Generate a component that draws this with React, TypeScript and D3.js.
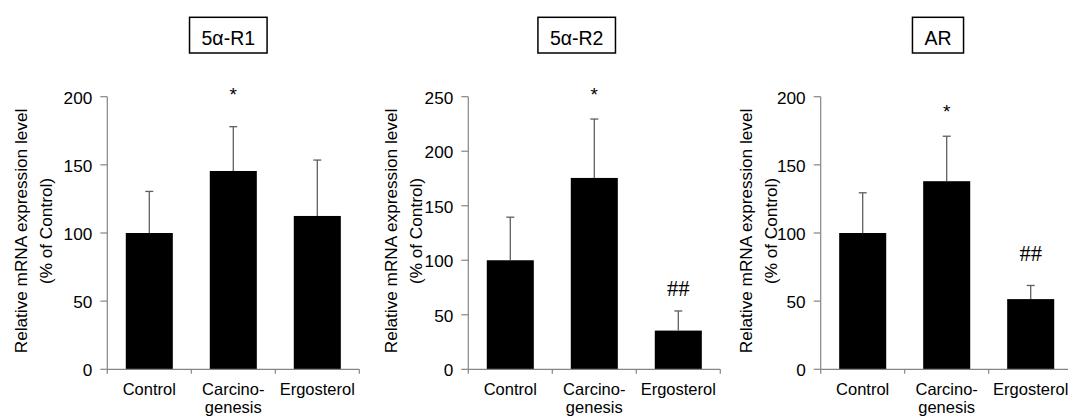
import React from "react";
import * as d3 from "d3";

// ---- data ----
const categories = ["Control", "Carcino-\ngenesis", "Ergosterol"];
const panelTitles = ["5α-R1", "5α-R2", "AR"];

const r1Means = [100, 145.5, 112.5];
const r1Err = [30.5, 32.5, 41];
const r1Marks = ["", "*", ""];
const r1MarkLevels = [0, 204.8, 0];

const r2Means = [100, 175.5, 35.5];
const r2Err = [39.5, 54, 18];
const r2Marks = ["", "*", "##"];
const r2MarkLevels = [0, 256, 73.6];

const arMeans = [100, 138, 51.5];
const arErr = [29.5, 33, 10];
const arMarks = ["", "*", "##"];
const arMarkLevels = [0, 192.4, 84.6];

const yMaxes = [200, 250, 200];
const yTickStep = 50;
const yLabelLines = ["Relative mRNA expression level", "(% of Control)"];

// ---- layout ----
const W = 1068;
const H = 417;
const plotTop = 96.7;
const plotBottom = 369.3;
const plotWidth = 252;
const axisXs = [107.3, 468.3, 820.7];
const titleCx = [228.3, 576.7, 938];
const yLab1Off = [80.6, 71.6, 69];
const yLab2Off = [55.6, 46.6, 44];

const SANS = "Arial, 'Liberation Sans', Helvetica, sans-serif";
const SERIF = "'Times New Roman', 'Liberation Serif', serif";
const TEXT = "#000";
const AXIS = "#858585";
const ERR = "#5e5e5e";

function measure(text: string, font: string): number {
  try {
    const c = document.createElement("canvas");
    const ctx = c.getContext("2d");
    if (ctx) {
      ctx.font = font;
      return ctx.measureText(text).width;
    }
  } catch (e) {}
  return text.length * 10;
}

type PanelProps = {
  idx: number;
  means: number[];
  errs: number[];
  marks: string[];
  markLevels: number[];
};

function Panel({ idx, means, errs, marks, markLevels }: PanelProps) {
  const ax = axisXs[idx];
  const y = d3.scaleLinear().domain([0, yMaxes[idx]]).range([plotBottom, plotTop]);
  const x = d3
    .scaleBand<string>()
    .domain(categories)
    .range([ax, ax + plotWidth])
    .paddingInner(0.44)
    .paddingOuter(0.22);
  const step = x.step();
  const ticks = d3.range(0, yMaxes[idx] + 1, yTickStep);
  const title = panelTitles[idx];
  const tw = measure(title, `19.5px ${SANS}`) + 24;
  const boxH = 35.7;
  const boxY = 17.3;
  const yc = 231;
  const x1 = ax - yLab1Off[idx];
  const x2 = ax - yLab2Off[idx];

  return (
    <g>
      {/* title box */}
      <rect
        x={titleCx[idx] - tw / 2}
        y={boxY}
        width={tw}
        height={boxH}
        fill="#fff"
        stroke="#000"
        strokeWidth={1.5}
      />
      <text
        x={titleCx[idx]}
        y={45}
        textAnchor="middle"
        fontFamily={SANS}
        fontSize={19.5}
        fill={TEXT}
      >
        {title}
      </text>

      {/* y axis label */}
      <text
        transform={`translate(${x1},${yc}) rotate(-90)`}
        textAnchor="middle"
        fontFamily={SANS}
        fontSize={17.2}
        fill={TEXT}
      >
        {yLabelLines[0]}
      </text>
      <text
        transform={`translate(${x2},${yc}) rotate(-90)`}
        textAnchor="middle"
        fontFamily={SANS}
        fontSize={17.2}
        fill={TEXT}
      >
        {yLabelLines[1]}
      </text>

      {/* bars */}
      {categories.map((c, i) => (
        <rect
          key={c}
          x={x(c)!}
          y={y(means[i])}
          width={x.bandwidth()}
          height={plotBottom - y(means[i])}
          fill="#000"
        />
      ))}

      {/* error bars */}
      {categories.map((c, i) => {
        const cx = x(c)! + x.bandwidth() / 2;
        const top = y(means[i] + errs[i]);
        return (
          <g key={c} stroke={ERR} strokeWidth={1.3}>
            <line x1={cx} x2={cx} y1={y(means[i])} y2={top} />
            <line x1={cx - 4} x2={cx + 4} y1={top} y2={top} />
          </g>
        );
      })}

      {/* y axis */}
      <line x1={ax} x2={ax} y1={plotTop} y2={plotBottom} stroke={AXIS} strokeWidth={1.2} />
      {ticks.map((t) => (
        <g key={t}>
          <line x1={ax - 7} x2={ax} y1={y(t)} y2={y(t)} stroke={AXIS} strokeWidth={1.2} />
          <text
            x={ax - 15}
            y={y(t)}
            dy="0.4em"
            textAnchor="end"
            fontFamily={SANS}
            fontSize={17.2}
            fill={TEXT}
          >
            {t}
          </text>
        </g>
      ))}

      {/* x axis */}
      <line
        x1={ax}
        x2={ax + plotWidth}
        y1={plotBottom}
        y2={plotBottom}
        stroke={AXIS}
        strokeWidth={1.2}
      />
      {d3.range(0, categories.length + 1).map((i) => (
        <line
          key={i}
          x1={ax + i * step}
          x2={ax + i * step}
          y1={plotBottom}
          y2={plotBottom + 4.5}
          stroke={AXIS}
          strokeWidth={1.2}
        />
      ))}
      {categories.map((c) => {
        const cx = x(c)! + x.bandwidth() / 2;
        const lines = c.split("\n");
        return (
          <text
            key={c}
            x={cx}
            y={395}
            textAnchor="middle"
            fontFamily={SANS}
            fontSize={16.5}
            fill={TEXT}
          >
            {lines.map((l, k) => (
              <tspan key={k} x={cx} dy={k === 0 ? 0 : 17.5}>
                {l}
              </tspan>
            ))}
          </text>
        );
      })}

      {/* significance marks */}
      {categories.map((c, i) => {
        const m = marks[i];
        if (!m) return null;
        const cx = x(c)! + x.bandwidth() / 2;
        const isHash = m.includes("#");
        return (
          <text
            key={c}
            x={cx}
            y={y(markLevels[i])}
            dy={isHash ? "0.33em" : "0.57em"}
            textAnchor="middle"
            fontFamily={isHash ? SERIF : SANS}
            fontSize={isHash ? 22.5 : 19}
            fill={TEXT}
          >
            {m}
          </text>
        );
      })}
    </g>
  );
}

export default function App() {
  return (
    <svg
      width={W}
      height={H}
      viewBox={`0 0 ${W} ${H}`}
      style={{ position: "absolute", left: 0, top: 0, background: "#fff" }}
    >
      <rect width={W} height={H} fill="#fff" />
      <Panel idx={0} means={r1Means} errs={r1Err} marks={r1Marks} markLevels={r1MarkLevels} />
      <Panel idx={1} means={r2Means} errs={r2Err} marks={r2Marks} markLevels={r2MarkLevels} />
      <Panel idx={2} means={arMeans} errs={arErr} marks={arMarks} markLevels={arMarkLevels} />
    </svg>
  );
}
